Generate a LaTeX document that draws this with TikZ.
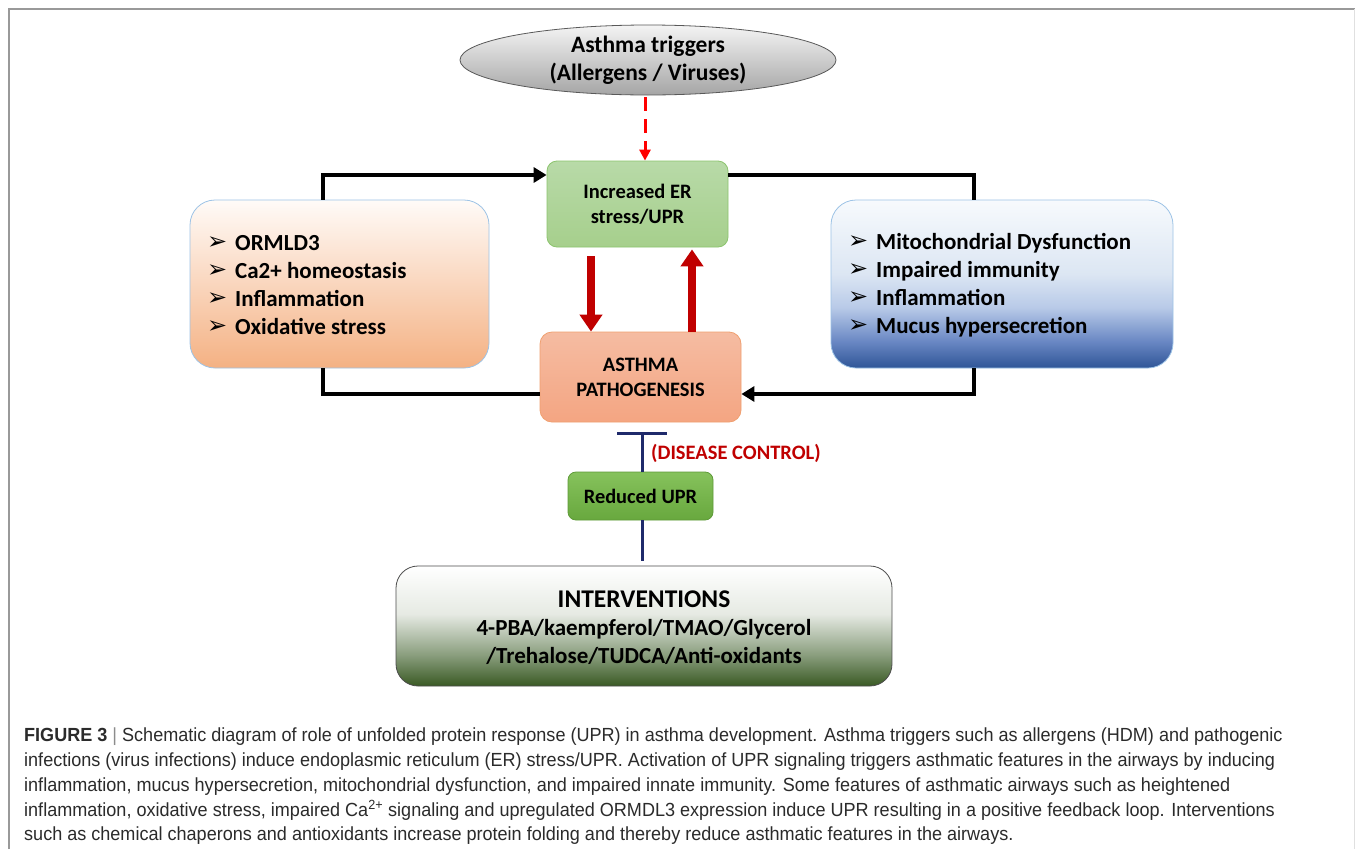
\documentclass[tikz,border=0pt]{standalone}
\usepackage{fontspec}
\setmainfont{Carlito}
\newfontfamily\dingfont{DejaVu Sans}
\newfontfamily\capfont[FakeStretch=0.95]{Liberation Sans}
\usetikzlibrary{arrows.meta,shapes.geometric,calc}
\definecolor{erT}{HTML}{B8DAA8}
\definecolor{erB}{HTML}{A6CF8C}
\definecolor{erD}{HTML}{8CC46E}
\definecolor{paT}{HTML}{F5BCA2}
\definecolor{paB}{HTML}{F4A582}
\definecolor{paD}{HTML}{F0A070}
\definecolor{ruT}{HTML}{86C25C}
\definecolor{ruB}{HTML}{68A83E}
\definecolor{ruD}{HTML}{5E9A38}
\definecolor{lbT}{HTML}{FFFBF8}
\definecolor{lbB}{HTML}{F4B183}
\definecolor{bxD}{HTML}{9DC3E6}
\definecolor{rb1}{HTML}{2F5597}
\definecolor{rb2}{HTML}{6A88C4}
\definecolor{rb3}{HTML}{B8CAE8}
\definecolor{rb4}{HTML}{DCE6F3}
\definecolor{rb5}{HTML}{F7FAFD}
\definecolor{iv1}{HTML}{3A5A24}
\definecolor{iv2}{HTML}{8A9E7E}
\definecolor{iv3}{HTML}{E6EAE3}
\definecolor{iv4}{HTML}{FFFFFF}
\definecolor{elT}{HTML}{F4F4F4}
\definecolor{elB}{HTML}{A5A5A5}
\definecolor{darkred}{HTML}{C00000}
\definecolor{navy}{HTML}{1F2A6B}
\definecolor{captxt}{HTML}{2B2B2B}
\pgfdeclareverticalshading{rshade}{100bp}{color(0bp)=(rb1); color(25bp)=(rb1); color(33bp)=(rb2); color(43bp)=(rb3); color(53bp)=(rb4); color(75bp)=(rb5); color(100bp)=(rb5)}
\pgfdeclareverticalshading{ishade}{100bp}{color(0bp)=(iv1); color(25bp)=(iv1); color(38bp)=(iv2); color(55bp)=(iv3); color(75bp)=(iv4); color(100bp)=(iv4)}
\newcommand{\bul}{\makebox[28pt][l]{\raisebox{1pt}{\dingfont\fontsize{24}{24}\selectfont ➢}}}
\begin{document}
\begin{tikzpicture}[x=1pt,y=-1pt,
  box/.style={draw, line width=0.8pt, inner sep=0pt},
  conn/.style={line width=4pt, black},
  connarr/.style={conn, -{Triangle[length=13pt,width=15pt]}},
  redarr/.style={line width=8pt, darkred, -{Triangle[length=17pt,width=22pt]}},
  inh/.style={line width=3pt, navy},
  lbl/.style={font=\bfseries\fontsize{23}{28}\selectfont, align=left, anchor=west, inner sep=0pt},
  captext/.style={font=\capfont\fontsize{19}{20}\selectfont, text=captxt, anchor=base west, inner sep=0pt}]
\useasboundingbox (0,0) rectangle (1355,849);
\fill[white] (0,0) rectangle (1355,849);
% frame
\draw[line width=2pt, color=black!40] (9,849) -- (9,9) -- (1355,9);
\draw[line width=1pt, color=black!12] (1354,9) -- (1354,849);
% nodes
\node[box, ellipse, draw=black!65, top color=elT, bottom color=elB, minimum width=376pt, minimum height=70pt,
  font=\bfseries\fontsize{23.5}{28}\selectfont, align=center] (trig) at (648,60) {Asthma triggers\\(Allergens / Viruses)};
\node[box, rounded corners=10pt, draw=erD, top color=erT, bottom color=erB, minimum width=181pt, minimum height=86pt,
  font=\bfseries\fontsize{20.5}{25}\selectfont, align=center] (er) at (637.5,204) {Increased ER\\stress/UPR};
\node[box, rounded corners=25pt, draw=bxD, top color=lbT, bottom color=lbB, minimum width=299pt, minimum height=168pt] (lbox) at (339.5,284) {};
\node[box, rounded corners=25pt, draw=bxD, shading=rshade, minimum width=342pt, minimum height=168pt] (rbox) at (1002,284) {};
\node[box, rounded corners=12pt, draw=paD, top color=paT, bottom color=paB, minimum width=201pt, minimum height=90pt,
  font=\bfseries\fontsize{20.5}{25}\selectfont, align=center] (path) at (640.5,377) {ASTHMA\\PATHOGENESIS};
\node[box, rounded corners=8pt, draw=ruD, top color=ruT, bottom color=ruB, minimum width=145pt, minimum height=48pt,
  font=\bfseries\fontsize{20.4}{20}\selectfont] (red) at (640.5,496) {Reduced UPR};
\node[box, rounded corners=22pt, draw=black!70, shading=ishade, minimum width=496pt, minimum height=120pt] (intv) at (644,626) {};
\node[font=\bfseries\fontsize{25.5}{28}\selectfont, inner sep=0pt] (intvh) at (644,599) {INTERVENTIONS};
\node[font=\bfseries\fontsize{23}{28}\selectfont, align=center, inner sep=0pt] (intvt) at (644,642) {4-PBA/kaempferol/TMAO/Glycerol\\/Trehalose/TUDCA/Anti-oxidants};
% list texts
\node[lbl] (ltxt) at (207,285) {\bul ORMLD3\\\bul Ca2+ homeostasis\\\bul Inflammation\\\bul Oxidative stress};
\node[lbl] (rtxt) at (848,285) {\bul Mitochondrial Dysfunction\\\bul Impaired immunity\\\bul Inflammation\\\bul Mucus hypersecretion};
% connectors
\coordinate (c1) at (323,175);
\coordinate (c2) at (974,175);
\coordinate (c3) at (323,394);
\coordinate (c4) at (974,394);
\draw[connarr] (c1 |- lbox.north) -- (c1) -- (c1 -| er.west);
\draw[conn] (c2 -| er.east) -- (c2) -- (c2 |- rbox.north);
\draw[conn] (c3 |- lbox.south) -- (c3) -- (c3 -| path.west);
\draw[connarr] (c4 |- rbox.south) -- (c4) -- (c4 -| path.east);
\coordinate (d1) at (591,0);
\coordinate (d2) at (692,0);
\coordinate (d3) at (645,0);
\coordinate (d4) at (642,0);
\draw[redarr, shorten <=9pt] (d1 |- er.south) -- (d1 |- path.north);
\draw[redarr, shorten >=2pt] (d2 |- path.north) -- (d2 |- er.south);
\draw[line width=3pt, red, dash pattern=on 14pt off 8pt, -{Triangle[length=11pt,width=11pt]}, shorten <=2pt] (d3 |- trig.south) -- (d3 |- er.north);
\draw[inh, -{Bar[width=50pt]}, shorten >=10pt] (d4 |- red.north) -- (d4 |- path.south);
\draw[inh, shorten >=5pt] (d4 |- red.south) -- (d4 |- intv.north);
\node[anchor=west, inner sep=0pt, text=darkred, font=\bfseries\fontsize{20.5}{20}\selectfont] (dc) at (651,453) {(DISEASE CONTROL)};
% caption
\node[captext] (cap1) at (24,741) {\textbf{FIGURE 3} {\color{black!45}|} Schematic diagram of role of unfolded protein response (UPR) in asthma development. Asthma triggers such as allergens (HDM) and pathogenic};
\node[captext] (cap2) at (24,766) {infections (virus infections) induce endoplasmic reticulum (ER) stress/UPR. Activation of UPR signaling triggers asthmatic features in the airways by inducing};
\node[captext] (cap3) at (24,791) {inflammation, mucus hypersecretion, mitochondrial dysfunction, and impaired innate immunity. Some features of asthmatic airways such as heightened};
\node[captext] (cap4) at (24,816) {inflammation, oxidative stress, impaired Ca\textsuperscript{2+} signaling and upregulated ORMDL3 expression induce UPR resulting in a positive feedback loop. Interventions};
\node[captext] (cap5) at (24,840) {such as chemical chaperons and antioxidants increase protein folding and thereby reduce asthmatic features in the airways.};
\end{tikzpicture}
\end{document}
